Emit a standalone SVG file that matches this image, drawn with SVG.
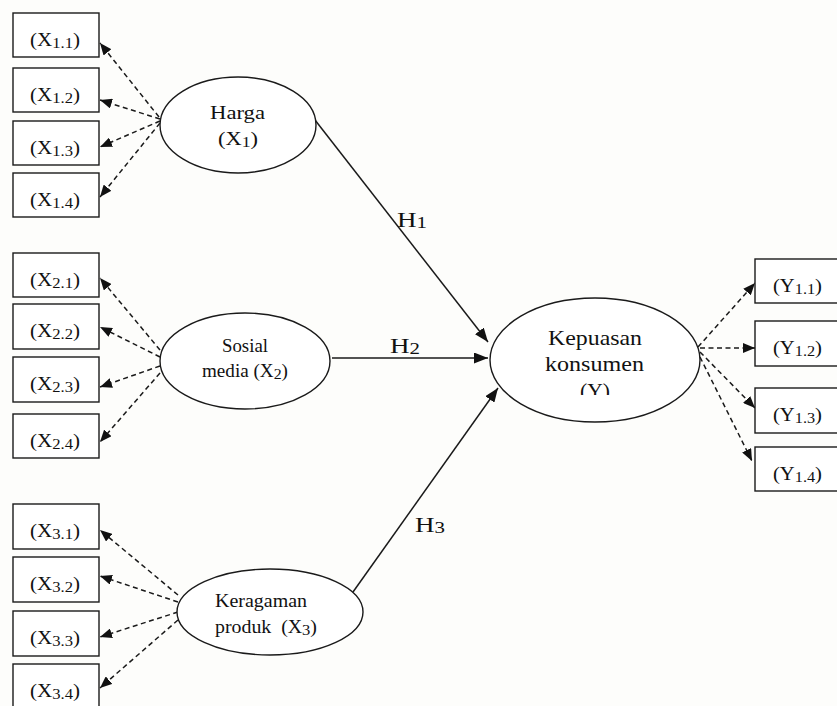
<svg xmlns="http://www.w3.org/2000/svg" width="837" height="706" viewBox="0 0 837 706">
<style>
.box{fill:#fff;stroke:#1a1a1a;stroke-width:1.4}
.ell{fill:#fff;stroke:#1a1a1a;stroke-width:1.4}
.t{font-family:"Liberation Serif","Times New Roman",serif;fill:#111}
.bl{font-size:19px}
.sub{font-size:15px}
.nl{font-size:19px}
.hl{font-size:22px}
.hs{font-size:17px}
.dash{fill:none;stroke:#1a1a1a;stroke-width:1.5;stroke-dasharray:5 3.5;marker-end:url(#ad)}
.solid{fill:none;stroke:#1a1a1a;stroke-width:1.5;marker-end:url(#as)}
</style>
<defs>
<marker id="ad" markerWidth="12" markerHeight="10" refX="12" refY="5" orient="auto" markerUnits="userSpaceOnUse"><path d="M0,0 L12,5 L0,10 z" fill="#111"/></marker>
<marker id="as" markerWidth="14" markerHeight="11" refX="14" refY="5.5" orient="auto" markerUnits="userSpaceOnUse"><path d="M0,0 L14,5.5 L0,11 z" fill="#111"/></marker>
<clipPath id="clipY"><rect x="560" y="370" width="70" height="25"/></clipPath>
</defs>
<rect width="837" height="706" fill="#fdfdfb"/>

<g id="connectors">
<line class="dash" x1="159" y1="117" x2="100" y2="43"/>
<line class="dash" x1="160" y1="119" x2="100" y2="100"/>
<line class="dash" x1="160" y1="121" x2="100" y2="147"/>
<line class="dash" x1="160" y1="123" x2="100" y2="197"/>
<line class="dash" x1="160" y1="350" x2="100" y2="278"/>
<line class="dash" x1="160" y1="357" x2="100" y2="327"/>
<line class="dash" x1="160" y1="366" x2="100" y2="387"/>
<line class="dash" x1="160" y1="373" x2="100" y2="442"/>
<line class="dash" x1="178" y1="595" x2="100" y2="530"/>
<line class="dash" x1="178" y1="602" x2="100" y2="576"/>
<line class="dash" x1="178" y1="612" x2="100" y2="637"/>
<line class="dash" x1="178" y1="620" x2="100" y2="688"/>
<line class="dash" x1="698" y1="347" x2="755" y2="283"/>
<line class="dash" x1="700" y1="348" x2="755" y2="348"/>
<line class="dash" x1="700" y1="352" x2="755" y2="408"/>
<line class="dash" x1="700" y1="357" x2="752" y2="461"/>
<line class="solid" x1="315" y1="120" x2="488" y2="342"/>
<line class="solid" x1="332" y1="358" x2="488" y2="358"/>
<line class="solid" x1="353" y1="592" x2="498" y2="388"/>
<text class="t hl" x="397" y="227" textLength="30" lengthAdjust="spacingAndGlyphs">H<tspan class="hs" dy="1">1</tspan></text>
<text class="t hl" x="390" y="353" textLength="30" lengthAdjust="spacingAndGlyphs">H<tspan class="hs" dy="1">2</tspan></text>
<text class="t hl" x="415" y="532" textLength="30" lengthAdjust="spacingAndGlyphs">H<tspan class="hs" dy="1">3</tspan></text>
</g>

<g id="harga">
<ellipse class="ell" cx="238" cy="125" rx="78" ry="48"/>
<text class="t nl" x="210" y="119" textLength="55" lengthAdjust="spacingAndGlyphs">Harga</text>
<text class="t nl" x="218" y="145" textLength="40" lengthAdjust="spacingAndGlyphs">(X<tspan class="sub" dy="2">1</tspan><tspan dy="-2">)</tspan></text>
</g>
<g id="sosial">
<ellipse class="ell" cx="245" cy="361" rx="85" ry="48"/>
<text class="t" font-size="18" x="222" y="352" textLength="46" lengthAdjust="spacingAndGlyphs">Sosial</text>
<text class="t" font-size="18" x="202" y="377" textLength="86" lengthAdjust="spacingAndGlyphs">media (X<tspan class="sub" dy="2">2</tspan><tspan dy="-2">)</tspan></text>
</g>
<g id="keragaman">
<ellipse class="ell" cx="270" cy="612" rx="93" ry="43"/>
<text class="t" font-size="18" x="215" y="607" textLength="92" lengthAdjust="spacingAndGlyphs">Keragaman</text>
<text class="t" font-size="18" x="215" y="633" textLength="102" lengthAdjust="spacingAndGlyphs" xml:space="preserve">produk  (X<tspan class="sub" dy="2">3</tspan><tspan dy="-2">)</tspan></text>
</g>
<g id="kepuasan">
<ellipse class="ell" cx="595" cy="360" rx="105" ry="62"/>
<text class="t" font-size="21" x="548" y="345" textLength="94" lengthAdjust="spacingAndGlyphs">Kepuasan</text>
<text class="t" font-size="21" x="545" y="371" textLength="99" lengthAdjust="spacingAndGlyphs">konsumen</text>
<text class="t" font-size="21" x="580" y="398" textLength="30" lengthAdjust="spacingAndGlyphs" clip-path="url(#clipY)">(Y)</text>
</g>

<g id="x11"><rect class="box" x="13" y="13" width="86" height="44"/><text class="t bl" x="30" y="46" textLength="50" lengthAdjust="spacingAndGlyphs">(X<tspan class="sub" dy="2">1.1</tspan><tspan dy="-2">)</tspan></text></g>
<g id="x12"><rect class="box" x="13" y="68" width="86" height="44"/><text class="t bl" x="30" y="101" textLength="50" lengthAdjust="spacingAndGlyphs">(X<tspan class="sub" dy="2">1.2</tspan><tspan dy="-2">)</tspan></text></g>
<g id="x13"><rect class="box" x="13" y="121" width="86" height="44"/><text class="t bl" x="30" y="154" textLength="50" lengthAdjust="spacingAndGlyphs">(X<tspan class="sub" dy="2">1.3</tspan><tspan dy="-2">)</tspan></text></g>
<g id="x14"><rect class="box" x="13" y="173" width="86" height="44"/><text class="t bl" x="30" y="206" textLength="50" lengthAdjust="spacingAndGlyphs">(X<tspan class="sub" dy="2">1.4</tspan><tspan dy="-2">)</tspan></text></g>

<g id="x21"><rect class="box" x="13" y="253" width="86" height="44"/><text class="t bl" x="30" y="286" textLength="50" lengthAdjust="spacingAndGlyphs">(X<tspan class="sub" dy="2">2.1</tspan><tspan dy="-2">)</tspan></text></g>
<g id="x22"><rect class="box" x="13" y="304" width="86" height="45"/><text class="t bl" x="30" y="337" textLength="50" lengthAdjust="spacingAndGlyphs">(X<tspan class="sub" dy="2">2.2</tspan><tspan dy="-2">)</tspan></text></g>
<g id="x23"><rect class="box" x="13" y="357" width="86" height="45"/><text class="t bl" x="30" y="390" textLength="50" lengthAdjust="spacingAndGlyphs">(X<tspan class="sub" dy="2">2.3</tspan><tspan dy="-2">)</tspan></text></g>
<g id="x24"><rect class="box" x="13" y="414" width="86" height="44"/><text class="t bl" x="30" y="447" textLength="50" lengthAdjust="spacingAndGlyphs">(X<tspan class="sub" dy="2">2.4</tspan><tspan dy="-2">)</tspan></text></g>

<g id="x31"><rect class="box" x="13" y="504" width="86" height="45"/><text class="t bl" x="30" y="537" textLength="50" lengthAdjust="spacingAndGlyphs">(X<tspan class="sub" dy="2">3.1</tspan><tspan dy="-2">)</tspan></text></g>
<g id="x32"><rect class="box" x="13" y="557" width="86" height="45"/><text class="t bl" x="30" y="590" textLength="50" lengthAdjust="spacingAndGlyphs">(X<tspan class="sub" dy="2">3.2</tspan><tspan dy="-2">)</tspan></text></g>
<g id="x33"><rect class="box" x="13" y="611" width="86" height="45"/><text class="t bl" x="30" y="644" textLength="50" lengthAdjust="spacingAndGlyphs">(X<tspan class="sub" dy="2">3.3</tspan><tspan dy="-2">)</tspan></text></g>
<g id="x34"><rect class="box" x="13" y="664" width="86" height="48"/><text class="t bl" x="30" y="697" textLength="50" lengthAdjust="spacingAndGlyphs">(X<tspan class="sub" dy="2">3.4</tspan><tspan dy="-2">)</tspan></text></g>

<g id="y11"><rect class="box" x="755" y="259" width="90" height="44"/><text class="t bl" x="773" y="292" textLength="49" lengthAdjust="spacingAndGlyphs">(Y<tspan class="sub" dy="2">1.1</tspan><tspan dy="-2">)</tspan></text></g>
<g id="y12"><rect class="box" x="755" y="321" width="90" height="45"/><text class="t bl" x="773" y="354" textLength="49" lengthAdjust="spacingAndGlyphs">(Y<tspan class="sub" dy="2">1.2</tspan><tspan dy="-2">)</tspan></text></g>
<g id="y13"><rect class="box" x="755" y="388" width="90" height="45"/><text class="t bl" x="773" y="421" textLength="49" lengthAdjust="spacingAndGlyphs">(Y<tspan class="sub" dy="2">1.3</tspan><tspan dy="-2">)</tspan></text></g>
<g id="y14"><rect class="box" x="755" y="447" width="90" height="44"/><text class="t bl" x="773" y="480" textLength="49" lengthAdjust="spacingAndGlyphs">(Y<tspan class="sub" dy="2">1.4</tspan><tspan dy="-2">)</tspan></text></g>
</svg>
